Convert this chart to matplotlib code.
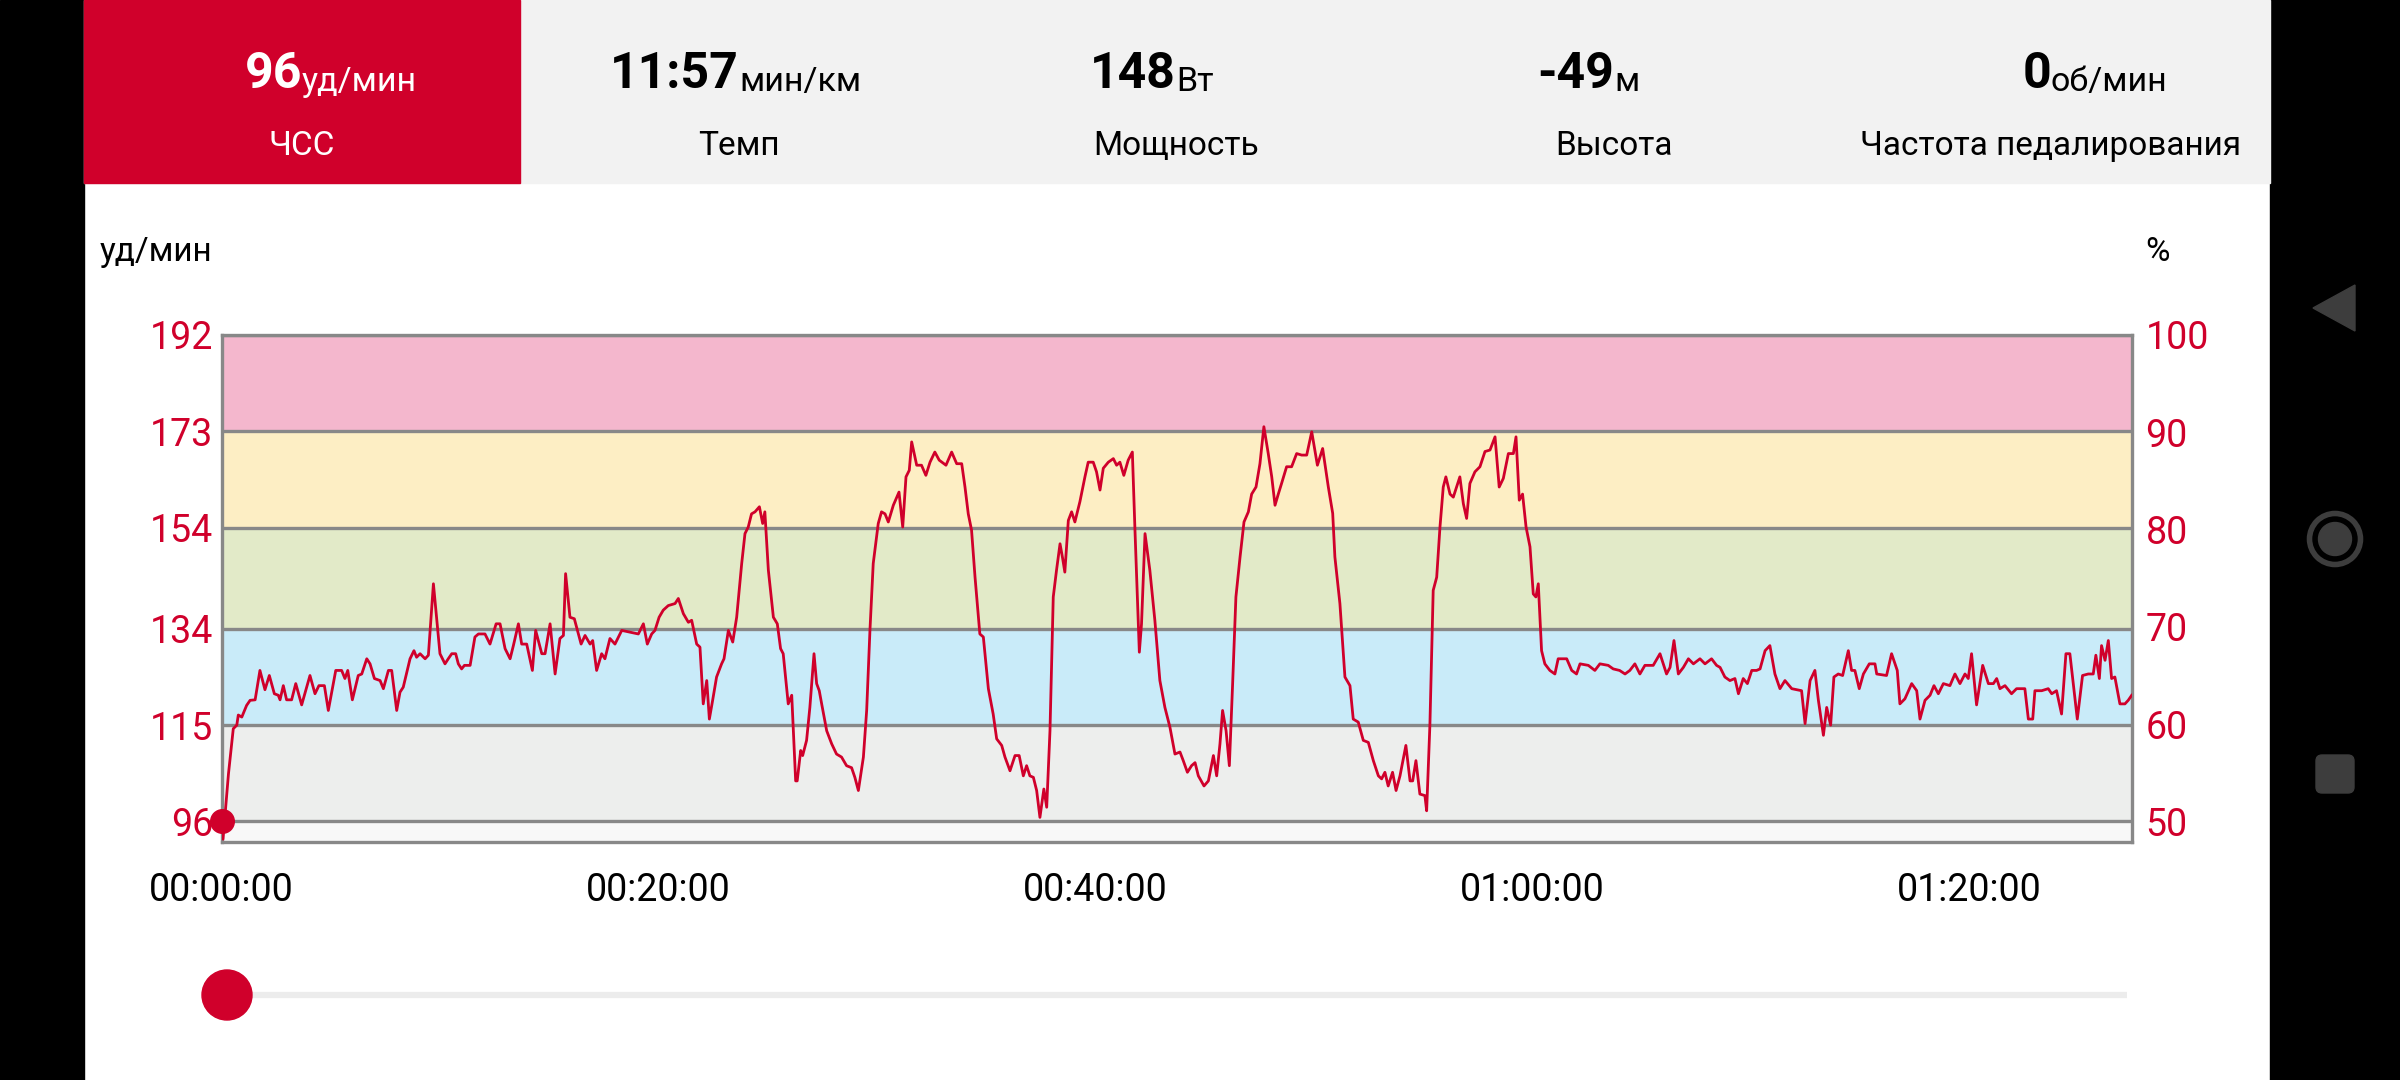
# Heart-rate track screen: header with summary values, zone-banded HR chart, slider.
import matplotlib.pyplot as plt
from matplotlib.patches import Rectangle, Circle, Polygon, FancyBboxPatch

plt.rcParams["font.family"] = ["Roboto", "DejaVu Sans"]

# --- data -------------------------------------------------------------------
header_values = ["96", "11:57", "148", "-49", "0"]
header_units = ["уд/мин", "мин/км", "Вт", "м", "об/мин"]
header_labels = ["ЧСС", "Темп", "Мощность", "Высота", "Частота педалирования"]

zone_edges = [92, 96, 115, 134, 154, 173, 192]
zone_colors = ["#f8f8f8", "#edeeed", "#c9ebf9", "#e2eac8", "#fdeec4", "#f4b7cd"]
hr_max = 192
pct_ticks = [50, 60, 70, 80, 90, 100]
time_ticks = [0, 20, 40, 60, 80]
time_labels = ["00:00:00", "00:20:00", "00:40:00", "01:00:00", "01:20:00"]
duration_min = 87.42

time_min = [
    0.00, 0.06, 0.31, 0.53, 0.69, 0.76, 0.92, 1.14, 1.30, 1.53, 1.75, 1.98, 2.18, 2.41, 2.59,
    2.67, 2.82, 2.97, 3.20, 3.39, 3.66, 4.04, 4.27, 4.45, 4.70, 4.88, 5.22, 5.49, 5.64, 5.77,
    5.98, 6.25, 6.41, 6.64, 6.79, 6.99, 7.25, 7.40, 7.63, 7.78, 8.01, 8.16, 8.31, 8.62, 8.80,
    8.92, 9.08, 9.31, 9.46, 9.69, 9.99, 10.22, 10.37, 10.53, 10.71, 10.83, 10.98, 11.11, 11.37,
    11.59, 11.75, 12.05, 12.28, 12.56, 12.74, 12.97, 13.20, 13.35, 13.58, 13.73, 13.96, 14.22,
    14.37, 14.65, 14.80, 15.03, 15.26, 15.48, 15.64, 15.74, 15.94, 16.14, 16.45, 16.63, 16.86,
    16.98, 17.16, 17.39, 17.54, 17.77, 18.00, 18.31, 19.07, 19.30, 19.48, 19.68, 19.83, 20.02,
    20.21, 20.44, 20.75, 20.90, 21.13, 21.36, 21.51, 21.74, 21.89,
    22.04, 22.20, 22.32, 22.47, 22.65, 22.88, 22.99, 23.19, 23.39, 23.57, 23.80, 23.95, 24.10,
    24.25, 24.41, 24.61, 24.76, 24.86, 25.02, 25.25, 25.43, 25.58, 25.70, 25.93, 26.09, 26.27,
    26.34, 26.50, 26.59, 26.77, 26.92, 27.11, 27.23, 27.35, 27.46, 27.69, 27.92, 28.14, 28.37,
    28.60, 28.83, 28.98, 29.14, 29.37, 29.52, 29.67, 29.82, 30.05, 30.20, 30.36, 30.51, 30.74,
    31.00, 31.17, 31.32, 31.47, 31.58, 31.81, 32.03, 32.23, 32.42, 32.64, 32.84, 33.15, 33.41,
    33.64, 33.87, 34.02, 34.17, 34.32, 34.48, 34.70, 34.86, 35.09, 35.31, 35.47, 35.70, 35.85,
    36.08, 36.31, 36.50, 36.69, 36.84, 36.99, 37.15, 37.30, 37.45, 37.63, 37.76, 37.91, 38.06,
    38.21, 38.37, 38.49, 38.59, 38.75, 38.90, 39.05, 39.28, 39.51, 39.66, 39.89, 40.04, 40.20,
    40.35, 40.58, 40.81, 40.96, 41.11, 41.29, 41.49, 41.68, 41.80, 42.00, 42.10, 42.26, 42.48,
    42.71, 42.94, 43.17, 43.40, 43.63, 43.86,
    44.01, 44.20, 44.39, 44.55, 44.70, 44.96, 45.16, 45.39, 45.54, 45.69, 45.81, 45.97, 46.12,
    46.27, 46.42, 46.61, 46.79, 46.99, 47.14, 47.34, 47.52, 47.70, 47.90, 48.06, 48.21, 48.36,
    48.51, 48.74, 48.97, 49.20, 49.43, 49.66, 49.89, 50.15, 50.39, 50.65, 50.85, 50.95, 51.18,
    51.41, 51.64, 51.79, 52.02, 52.25, 52.48, 52.71, 52.94, 53.09, 53.24, 53.39, 53.59, 53.75,
    53.93, 54.20, 54.39, 54.51, 54.66, 54.84, 55.07, 55.15, 55.30, 55.45, 55.61, 55.76, 55.91,
    56.03, 56.22, 56.37, 56.67, 56.83, 56.98, 57.13, 57.36, 57.59, 57.82, 58.05, 58.28, 58.47,
    58.66, 58.89, 59.12, 59.24, 59.39, 59.54, 59.70, 59.88, 60.03, 60.15, 60.26, 60.41, 60.56,
    60.79, 61.02, 61.17, 61.56, 61.79, 62.01, 62.17, 62.55, 62.85, 63.08, 63.46, 63.69, 63.98,
    64.23, 64.45, 64.68, 64.91, 65.14, 65.52, 65.83, 66.13, 66.29, 66.47, 66.67,
    66.90, 67.13, 67.36, 67.66, 67.89, 68.19, 68.42, 68.58, 68.80, 69.03, 69.26, 69.42, 69.64,
    69.83, 70.03, 70.25, 70.41, 70.64, 70.86, 71.09, 71.32, 71.55, 71.86, 72.31, 72.47, 72.70,
    72.92, 73.08, 73.31, 73.46, 73.64, 73.79, 73.99, 74.19, 74.45, 74.60, 74.75, 74.95, 75.14,
    75.41, 75.67, 75.75, 76.20, 76.43, 76.69, 76.81, 77.04, 77.35, 77.58, 77.73, 77.96, 78.19,
    78.37, 78.57, 78.80, 79.10, 79.33, 79.56, 79.79, 79.94, 80.09, 80.32, 80.60, 80.86, 81.09,
    81.24, 81.39, 81.62, 81.92, 82.15, 82.53, 82.69, 82.89, 82.99, 83.30, 83.60, 83.76, 83.98,
    84.21, 84.41, 84.59, 84.93, 85.17, 85.43, 85.66, 85.78, 85.94, 86.04, 86.20, 86.35, 86.50,
    86.65, 86.88, 87.11, 87.26, 87.42,
]

hr_bpm = [
    96, 92.5, 105.4, 114.3, 115, 117, 116.6, 118.9, 119.9, 120, 125.8, 122, 124.8, 121.2, 120.9,
    120, 122.8, 120, 120, 123.2, 119, 124.8, 121.2, 122.8, 122.8, 117.9, 125.8, 125.8, 124.2, 125.8,
    120, 124.8, 125.1, 128.1, 127.1, 124.2, 123.8, 122.2, 125.8, 125.8, 117.9, 121.5, 122.5, 128.1, 129.7,
    128.4, 129.1, 128.1, 128.8, 142.9, 129.1, 127.1, 128.1, 129.1, 129.1, 127.1, 126.1, 126.8, 126.8,
    132.4, 133, 133, 131, 135, 135, 130.1, 128.1, 130.7, 135, 131, 131, 125.8,
    133.7, 129.1, 129.1, 135, 125.1, 132.1, 132.7, 144.9, 136.3, 136, 131, 132.7, 131,
    131.7, 125.8, 129.1, 128.1, 132.1, 131, 133.7, 133, 135, 131, 133, 133.7, 136.3,
    137.7, 138.6, 139, 140, 137, 135.3, 135.7, 131, 130.4,
    119.2, 123.8, 116.2, 119.9, 124.5, 127.1, 128.1, 133.7, 131.4, 136.3, 146.9, 152.8, 154.1,
    156.7, 157.1, 158.1, 154.8, 157.1, 145.6, 136.3, 135, 130.1, 129.1, 119.2, 120.9, 104,
    104, 110, 109, 112, 118.5, 129.1, 123.2, 121.8, 119.2, 113.9, 111.3, 109.3, 108.7,
    107, 106.6, 104.7, 102.1, 108.7, 117.9, 133.7, 146.9, 154.8, 157.1, 156.7, 155.1, 158.4,
    161, 154.1, 164, 165.3, 170.9, 166.3, 166.3, 164.3, 166.9, 168.9, 167.3, 166.3, 168.9,
    166.6, 166.6, 162, 156.7, 153.5, 144.2, 133, 132.4, 122.2, 117.2, 112.3, 111, 108.7,
    106, 109, 109, 105, 107, 105, 104.7, 102.1, 96.8, 102.4, 98.8, 113.9, 140.3,
    145.6, 150.8, 147.9, 145.2, 155.4, 157.1, 155.1, 159.1, 164, 166.9, 166.9, 165, 161.4,
    165.7, 166.9, 167.6, 166.3, 166.9, 164.3, 167.3, 168.9, 153.5, 129.4, 135, 152.8, 145.6,
    135.7, 123.8, 118.5, 114.6, 109.3, 109.7,
    108, 105.7, 107, 107.6, 105, 103, 104, 109, 105, 111.3, 117.9, 113.9, 107,
    123.2, 140.3, 148.2, 155.1, 157.1, 160.6, 162, 166.6, 173.9, 168.6, 164, 158.4, 160.6,
    162.7, 166, 166, 168.6, 168.3, 168.3, 172.9, 166.3, 169.6, 162, 156.8, 148.2, 139,
    124.5, 122.8, 116.2, 115.6, 112, 111.6, 108, 105, 104.4, 105.7, 103, 105.7, 102.1,
    105, 111, 104, 104, 108, 101.4, 101.1, 98.1, 115.2, 141.6, 144.2, 154.1, 162,
    164, 160.6, 160, 164, 158.7, 155.8, 162.7, 165, 166, 169, 169.3, 171.9, 162,
    163.7, 168.6, 168.6, 171.9, 159.4, 160.6, 154.1, 150.2, 140.9, 140.3, 142.9, 129.7, 127.1,
    125.8, 125.1, 128.1, 128.1, 125.8, 125.1, 127.1, 126.8, 125.8, 127.1, 126.8, 126.1, 125.8,
    125.1, 125.8, 127.1, 125.1, 126.8, 126.8, 129.1, 125.1, 126.4, 131.7, 125.1,
    126.4, 128.1, 127.1, 128.1, 127.1, 128.1, 126.8, 126.4, 124.5, 123.8, 124.2, 121.2, 124.2,
    123.2, 125.8, 125.8, 126.1, 129.7, 130.7, 125.1, 122.2, 123.8, 122.2, 121.8, 115.3, 123.8,
    125.8, 119.9, 113, 118.5, 115, 124.5, 125.1, 124.8, 129.7, 125.8, 125.8, 122.2, 125.1,
    127.1, 127.1, 125.1, 124.8, 129.1, 125.8, 119.2, 120.2, 123.2, 121.8, 116.2, 119.9, 120.9,
    122.8, 121.2, 123.2, 122.8, 125.1, 123.2, 125.1, 124.2, 129.1, 119, 126.8, 123.2, 123.2,
    124.2, 122.2, 122.8, 121.2, 122.2, 122.2, 116.2, 116.2, 121.8, 121.8, 122.2, 121.2, 121.8,
    117.2, 129.1, 129.1, 116.2, 124.8, 125.1, 125.1, 128.8, 124.2, 130.7, 127.8, 131.7, 124.2,
    124.5, 119.2, 119.2, 119.9, 120.9,
]

RED = "#d0002b"
GRID = "#888888"

# --- figure -------------------------------------------------------------------
fig = plt.figure(figsize=(24, 10.8), dpi=100)
fig.patch.set_facecolor("white")

# screen chrome drawn in pixel coordinates (y grows downward)
bg = fig.add_axes([0, 0, 1, 1])
bg.set_xlim(0, 2400)
bg.set_ylim(1080, 0)
bg.axis("off")
bg.add_patch(Rectangle((0, 0), 84, 1080, color="black"))
bg.add_patch(Rectangle((2270, 0), 130, 1080, color="black"))
bg.add_patch(Rectangle((84, 0), 2186, 183, color="#f2f2f2"))
bg.add_patch(Rectangle((84, 0), 436, 183, color=RED))

col_centers = [302, 739, 1176, 1614, 2051]
for i, cx in enumerate(col_centers):
    fg = "white" if i == 0 else "black"
    bg.text(cx, 88, header_values[i], ha="right", va="baseline", fontsize=36,
            fontweight="bold", color=fg)
    bg.text(cx, 91, header_units[i], ha="left", va="baseline", fontsize=24.5, color=fg)
    bg.text(cx, 155, header_labels[i], ha="center", va="baseline", fontsize=24, color=fg)

bg.text(100, 261, "уд/мин", ha="left", va="baseline", fontsize=24, color="black")
bg.text(2145, 261, "%", ha="left", va="baseline", fontsize=24, color="black")

# slider
bg.plot([227, 2127], [995, 995], color="#ececec", lw=4.5, solid_capstyle="butt", zorder=1)
bg.add_patch(Circle((227, 995), 25, color=RED, zorder=2))

# navigation bar icons
nav = "#3d3d3d"
bg.add_patch(Polygon([(2313, 308), (2355, 285), (2355, 331)], closed=True, color=nav))
bg.add_patch(Circle((2335, 539), 25.5, fill=False, ec=nav, lw=4))
bg.add_patch(Circle((2335, 539), 16.5, color=nav))
bg.add_patch(FancyBboxPatch((2316, 755), 38, 38, boxstyle="round,pad=0,rounding_size=6",
                            color=nav))

# --- chart ------------------------------------------------------------------------
ax = fig.add_axes([221.7 / 2400, 238.3 / 1080, 1910 / 2400, 506.7 / 1080])
ax.set_facecolor("none")
for lo, hi, c in zip(zone_edges[:-1], zone_edges[1:], zone_colors):
    ax.axhspan(lo, hi, color=c, lw=0, zorder=0)
for y in zone_edges[1:]:
    ax.axhline(y, color=GRID, lw=2.4, zorder=1)

ax.plot(time_min, hr_bpm, color=RED, lw=2.0, zorder=3)
ax.plot([time_min[0]], [hr_bpm[0]], "o", color=RED, ms=17, zorder=4, clip_on=False)

ax.set_xlim(0, duration_min)
ax.set_ylim(zone_edges[0], zone_edges[-1])
ax.set_yticks(zone_edges[1:])
ax.set_yticklabels([str(v) for v in zone_edges[1:]])
ax.set_xticks(time_ticks)
ax.set_xticklabels(time_labels)
ax.tick_params(axis="y", length=0, pad=6, labelsize=27, labelcolor=RED)
ax.tick_params(axis="x", length=0, pad=22, labelsize=27, labelcolor="black")
for s in ax.spines.values():
    s.set_color(GRID)
    s.set_linewidth(2.4)

ax2 = ax.twinx()
ax2.set_ylim(zone_edges[0] / hr_max * 100, 100)
ax2.set_yticks(pct_ticks)
ax2.set_yticklabels([str(v) for v in pct_ticks])
ax2.tick_params(axis="y", length=0, pad=10, labelsize=27, labelcolor=RED)
for s in ax2.spines.values():
    s.set_visible(False)

fig.savefig("out.png", dpi=100)
